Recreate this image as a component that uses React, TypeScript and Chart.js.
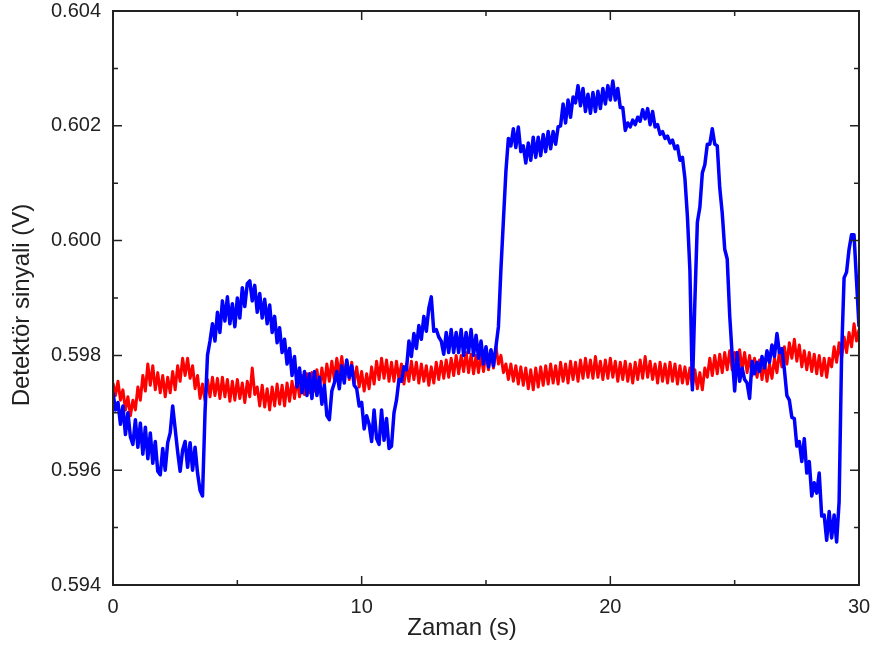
import { useEffect, useRef } from "react";
import { Chart, registerables } from "chart.js";

Chart.register(...registerables);

// sampling interval of the recorded traces (seconds)
const sampleStep = 0.1;

// Blue trace, one row per second (t = k.0 … k.9), final value at t = 30.0
const blueSignal = [
  0.59735, 0.59705, 0.59718, 0.5968, 0.59712, 0.59662, 0.597, 0.59658, 0.59645, 0.59688,
  0.5964, 0.59682, 0.59628, 0.59675, 0.5962, 0.59665, 0.59612, 0.5965, 0.59598, 0.59592,
  0.59638, 0.596, 0.59648, 0.59665, 0.59712, 0.59672, 0.59632, 0.59598, 0.59635, 0.5965,
  0.59605, 0.59648, 0.596, 0.5964, 0.59595, 0.59565, 0.59555, 0.597, 0.598, 0.59825,
  0.59855, 0.59825, 0.59875, 0.5984, 0.59895, 0.5986, 0.59902, 0.59855, 0.5989, 0.5985,
  0.599, 0.59865, 0.59918, 0.59885, 0.59925, 0.5993, 0.59895, 0.59922, 0.59875, 0.59908,
  0.59865, 0.59898, 0.59855, 0.59888, 0.5984, 0.59868, 0.59822, 0.59848, 0.59805, 0.59828,
  0.59785, 0.59812, 0.59765, 0.59798, 0.59745, 0.59778, 0.59735, 0.59772, 0.5973, 0.59768,
  0.59725, 0.59772, 0.5973, 0.59762, 0.59715, 0.59748, 0.59695, 0.59688, 0.59738, 0.59752,
  0.59772, 0.59742, 0.59782, 0.59752, 0.59792, 0.59762, 0.59782, 0.59748, 0.59742, 0.59712,
  0.59718, 0.59672, 0.59695, 0.5968, 0.5965, 0.59705, 0.59655, 0.59645, 0.59705, 0.59652,
  0.5969, 0.59638, 0.59642, 0.597, 0.59722, 0.59758, 0.59755, 0.5978, 0.59775, 0.59825,
  0.59798, 0.59838, 0.59812, 0.59852, 0.59828, 0.59868, 0.59842, 0.59882, 0.59902, 0.59842,
  0.59845, 0.59832, 0.59825, 0.59802, 0.5984, 0.59805, 0.59845, 0.59805, 0.5984, 0.59805,
  0.59845, 0.598, 0.5984, 0.59805, 0.59845, 0.598, 0.59835, 0.59795, 0.59825, 0.59785,
  0.59815, 0.5978, 0.5981, 0.59782, 0.59815, 0.5985, 0.5995, 0.60035, 0.6012, 0.60178,
  0.60165, 0.60195, 0.60162, 0.60198, 0.60155, 0.60165, 0.60135, 0.6017, 0.6014, 0.6018,
  0.60145, 0.6018, 0.60148, 0.60185, 0.60155, 0.6019, 0.6016, 0.6019, 0.60168, 0.60198,
  0.602, 0.60238, 0.60205, 0.60245, 0.60215, 0.6025, 0.6024, 0.6027, 0.60235, 0.60265,
  0.60225, 0.60255, 0.60222, 0.60258, 0.60225, 0.6026, 0.6023, 0.60265, 0.60238, 0.6027,
  0.60245, 0.60278, 0.60245, 0.60265, 0.60232, 0.60232, 0.60192, 0.60205, 0.60198, 0.6021,
  0.60202, 0.60215, 0.60208, 0.60228, 0.60212, 0.6023, 0.60202, 0.60225, 0.60198, 0.60202,
  0.60185, 0.6019, 0.60178, 0.60182, 0.6017, 0.60175, 0.6016, 0.60165, 0.6014, 0.60145,
  0.60108, 0.60042, 0.59948, 0.5974, 0.59895, 0.60032, 0.60058, 0.60118, 0.60132, 0.60168,
  0.60168, 0.60195, 0.60168, 0.60165, 0.60092, 0.60048, 0.59985, 0.59968, 0.5987, 0.598,
  0.59738, 0.59805, 0.59755, 0.59778, 0.59758, 0.59752, 0.59725, 0.5979, 0.59768, 0.59788,
  0.59772, 0.59798, 0.59778, 0.59808, 0.59788, 0.59818, 0.59798, 0.59838, 0.59805, 0.59812,
  0.59775, 0.5973, 0.59722, 0.59692, 0.5969, 0.59642, 0.5965, 0.59615, 0.59655, 0.59595,
  0.59615, 0.59555, 0.59578, 0.5956, 0.59595, 0.5952, 0.59522, 0.59478, 0.59528, 0.59482,
  0.59522, 0.59475, 0.59545, 0.598, 0.59935, 0.59945, 0.59985, 0.6001, 0.6001, 0.5993,
  0.5985,
];

// Red trace, same sampling
const redSignal = [
  0.59752, 0.5973, 0.59755, 0.59722, 0.5974, 0.59705, 0.59728, 0.59695, 0.59722, 0.59705,
  0.59745, 0.59722, 0.59765, 0.59738, 0.59785, 0.59748, 0.59782, 0.5974, 0.5977, 0.59735,
  0.59765, 0.59728, 0.59762, 0.59735, 0.59772, 0.5974, 0.59782, 0.59755, 0.59795, 0.59765,
  0.59795, 0.5976, 0.59782, 0.59742, 0.59765, 0.59725, 0.5975, 0.59722, 0.59758, 0.59728,
  0.59762, 0.5973, 0.5976, 0.59725, 0.59762, 0.59728, 0.59758, 0.5972, 0.59755, 0.59722,
  0.59758, 0.59725, 0.59752, 0.59718, 0.59755, 0.59728, 0.59778, 0.59732, 0.59745, 0.59712,
  0.59748, 0.5971, 0.59742, 0.59705, 0.59745, 0.59712, 0.5975, 0.59715, 0.59748, 0.59712,
  0.59752, 0.5972, 0.59755, 0.59725, 0.5976, 0.59728, 0.59765, 0.59732, 0.59768, 0.59735,
  0.5977, 0.59738, 0.59775, 0.59742, 0.59778, 0.59748, 0.59785, 0.59755, 0.5979, 0.59758,
  0.59795, 0.59765, 0.59798, 0.59762, 0.5979, 0.59758, 0.59788, 0.59752, 0.5978, 0.59745,
  0.59772, 0.59738, 0.59768, 0.59742, 0.5978, 0.5975, 0.5979, 0.59758, 0.59795, 0.5976,
  0.59792, 0.59755, 0.59788, 0.59755, 0.5979, 0.59758, 0.59785, 0.5975, 0.59785, 0.59755,
  0.5979, 0.59758, 0.59788, 0.59752, 0.59785, 0.59755, 0.59782, 0.59748, 0.5978, 0.59752,
  0.59788, 0.59758, 0.5979, 0.5976, 0.59792, 0.59762, 0.59795, 0.59765, 0.598, 0.59768,
  0.598, 0.59772, 0.59805, 0.5977, 0.59802, 0.59768, 0.598, 0.5977, 0.59802, 0.59772,
  0.59805, 0.59775, 0.59808, 0.59778, 0.59815, 0.59785, 0.598, 0.5977, 0.59785, 0.59758,
  0.59785, 0.59755, 0.59782, 0.5975, 0.5978, 0.59748, 0.59778, 0.59742, 0.59775, 0.5974,
  0.59778, 0.59745, 0.5978, 0.59748, 0.59782, 0.5975, 0.59785, 0.59752, 0.59782, 0.5975,
  0.59788, 0.59755, 0.59785, 0.59752, 0.5979, 0.59758, 0.59788, 0.59755, 0.59792, 0.5976,
  0.59795, 0.59762, 0.59792, 0.5976, 0.59798, 0.59762, 0.5979, 0.59758, 0.59792, 0.5976,
  0.59795, 0.59762, 0.5979, 0.59755, 0.59788, 0.59758, 0.5979, 0.59755, 0.59785, 0.59752,
  0.59788, 0.59758, 0.59792, 0.5976, 0.59798, 0.59762, 0.5979, 0.59758, 0.59785, 0.59752,
  0.59788, 0.59755, 0.59785, 0.59752, 0.59788, 0.59755, 0.59785, 0.5975, 0.59782, 0.59752,
  0.5978, 0.5975, 0.59778, 0.59745, 0.59775, 0.59742, 0.5977, 0.5974, 0.59778, 0.59762,
  0.59795, 0.59765, 0.598, 0.59768, 0.59802, 0.5977, 0.59805, 0.59775, 0.59808, 0.59775,
  0.59805, 0.5978, 0.5981, 0.59775, 0.59805, 0.5977, 0.598, 0.59765, 0.59795, 0.59762,
  0.59792, 0.59758, 0.5979, 0.59755, 0.59785, 0.5976, 0.59795, 0.5977, 0.59808, 0.5978,
  0.59815, 0.59785, 0.59822, 0.59795, 0.59828, 0.5979, 0.59818, 0.5978, 0.59808, 0.59775,
  0.59805, 0.59772, 0.59802, 0.59768, 0.598, 0.59765, 0.59795, 0.59762, 0.59795, 0.5978,
  0.59815, 0.59788, 0.59822, 0.59795, 0.59832, 0.59805, 0.5984, 0.59815, 0.59855, 0.59825,
  0.59845,
];

const xMajorTicks = [0, 10, 20, 30];
const yMajorTicks = [0.594, 0.596, 0.598, 0.6, 0.602, 0.604];
const xTitle = "Zaman (s)";
const yTitle = "Detektör sinyali (V)";

const FONT = "'Liberation Sans', Arial, sans-serif";
const INK = "#222";

function toPoints(values: number[]) {
  return values.map((v, i) => ({ x: Math.round(i * sampleStep * 10) / 10, y: v }));
}

const framePlugin = {
  id: "originFrame",
  afterDatasetsDraw(chart: any) {
    const { ctx, chartArea, scales } = chart;
    const { left, right, top, bottom } = chartArea;
    const xs = scales.x;
    const ys = scales.y;
    ctx.save();
    ctx.strokeStyle = INK;
    ctx.lineWidth = 2;
    ctx.strokeRect(left, top, right - left, bottom - top);
    ctx.lineWidth = 1.5;
    const major = 9;
    const minor = 5;
    const xPositions: [number, number][] = [];
    xMajorTicks.forEach((v, i) => {
      xPositions.push([xs.getPixelForValue(v), major]);
      if (i < xMajorTicks.length - 1) {
        xPositions.push([xs.getPixelForValue((v + xMajorTicks[i + 1]) / 2), minor]);
      }
    });
    const yPositions: [number, number][] = [];
    yMajorTicks.forEach((v, i) => {
      yPositions.push([ys.getPixelForValue(v), major]);
      if (i < yMajorTicks.length - 1) {
        yPositions.push([ys.getPixelForValue((v + yMajorTicks[i + 1]) / 2), minor]);
      }
    });
    ctx.beginPath();
    xPositions.forEach(([px, len]) => {
      ctx.moveTo(px, bottom);
      ctx.lineTo(px, bottom - len);
      ctx.moveTo(px, top);
      ctx.lineTo(px, top + len);
    });
    yPositions.forEach(([py, len]) => {
      ctx.moveTo(left, py);
      ctx.lineTo(left + len, py);
      ctx.moveTo(right, py);
      ctx.lineTo(right - len, py);
    });
    ctx.stroke();

    ctx.fillStyle = INK;
    ctx.font = `24px ${FONT}`;
    ctx.textAlign = "center";
    ctx.textBaseline = "middle";
    ctx.fillText(xTitle, 462, 628);
    ctx.translate(22, 305);
    ctx.rotate(-Math.PI / 2);
    ctx.fillText(yTitle, 0, 0);
    ctx.restore();
  },
};

export default function App() {
  const ref = useRef<HTMLCanvasElement>(null);

  useEffect(() => {
    document.body.style.margin = "0";
    if (!ref.current) return;
    const lineStyle = {
      pointRadius: 0,
      tension: 0,
      borderJoinStyle: "round" as const,
    };
    const chart = new Chart(ref.current, {
      type: "line",
      data: {
        datasets: [
          {
            label: "blue",
            data: toPoints(blueSignal),
            borderColor: "#0000ff",
            backgroundColor: "#0000ff",
            borderWidth: 3.5,
            ...lineStyle,
          },
          {
            label: "red",
            data: toPoints(redSignal),
            borderColor: "#ff0000",
            backgroundColor: "#ff0000",
            borderWidth: 3,
            ...lineStyle,
          },
        ],
      },
      options: {
        responsive: false,
        animation: false,
        parsing: false as any,
        layout: { padding: { top: 11, right: 16, left: 0, bottom: 0 } },
        plugins: { legend: { display: false }, tooltip: { enabled: false } },
        scales: {
          x: {
            type: "linear",
            min: 0,
            max: 30,
            grid: { display: false, drawTicks: false },
            border: { display: false },
            afterFit: (s: any) => {
              s.height = 65;
              s.paddingLeft = 0;
              s.paddingRight = 0;
            },
            afterBuildTicks: (s: any) => {
              s.ticks = xMajorTicks.map((v) => ({ value: v }));
            },
            ticks: {
              padding: 10,
              color: INK,
              font: { family: FONT, size: 20 },
              maxRotation: 0,
              autoSkip: false,
              callback: (v: any) => String(v),
            },
          },
          y: {
            type: "linear",
            min: 0.594,
            max: 0.604,
            grid: { display: false, drawTicks: false },
            border: { display: false },
            afterFit: (s: any) => {
              s.width = 113;
              s.paddingTop = 0;
              s.paddingBottom = 0;
            },
            afterBuildTicks: (s: any) => {
              s.ticks = yMajorTicks.map((v) => ({ value: v }));
            },
            ticks: {
              padding: 12,
              color: INK,
              font: { family: FONT, size: 20 },
              autoSkip: false,
              callback: (v: any) => Number(v).toFixed(3),
            },
          },
        },
      },
      plugins: [framePlugin],
    });
    return () => chart.destroy();
  }, []);

  return (
    <div style={{ width: 875, height: 650 }}>
      <canvas ref={ref} width={875} height={650} />
    </div>
  );
}
